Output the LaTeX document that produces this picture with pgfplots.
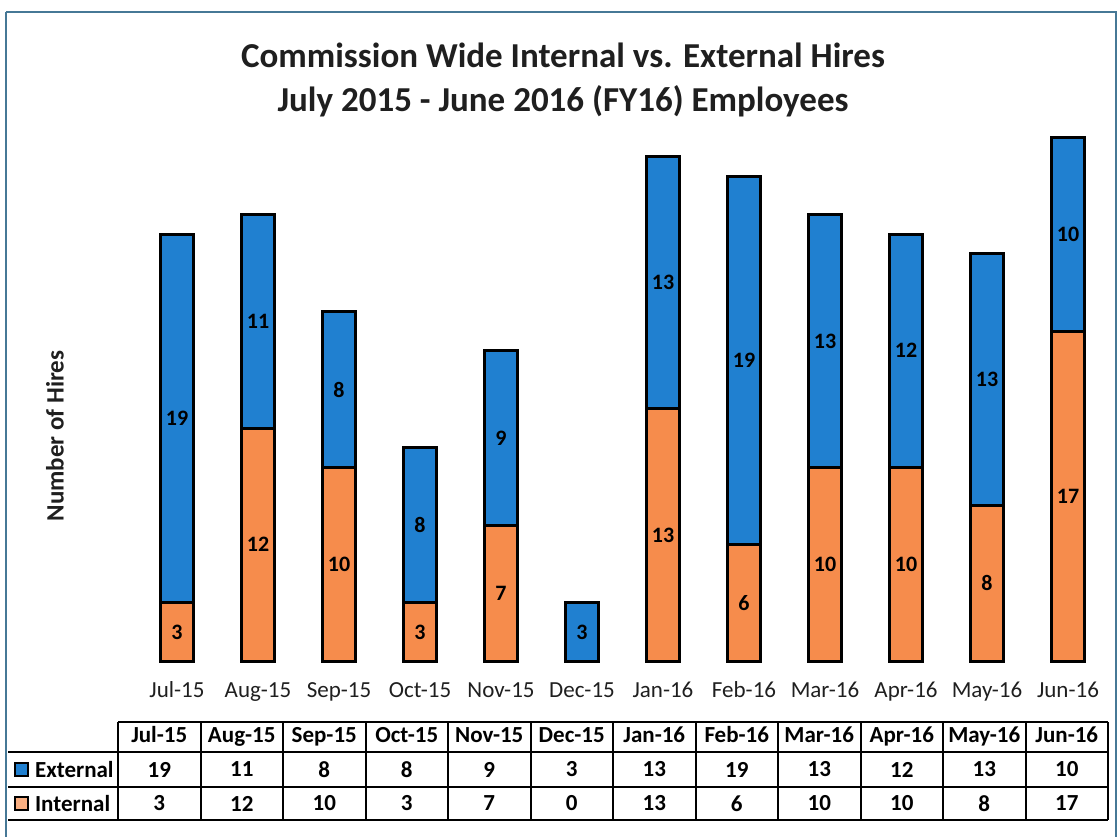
\documentclass[border=0pt]{standalone}
\usepackage{pgfplots}
\usepackage{pgfplotstable}
\pgfplotsset{compat=1.18}
\usepackage{fontspec}
\setmainfont{Carlito}

\definecolor{extblue}{RGB}{32,128,208}
\definecolor{intorange}{RGB}{246,140,76}
\definecolor{frameblue}{RGB}{70,120,150}

% monthly hires, FY16
\pgfplotstableread{
idx month  ext int
0   Jul-15 19  3
1   Aug-15 11  12
2   Sep-15 8   10
3   Oct-15 8   3
4   Nov-15 9   7
5   Dec-15 3   0
6   Jan-16 13  13
7   Feb-16 19  6
8   Mar-16 13  10
9   Apr-16 12  10
10  May-16 13  8
11  Jun-16 10  17
}\hires

\pgfplotsset{
  hiresaxis/.style={
    at={(68.25pt,87.5pt)}, anchor=south west,
    scale only axis, width=486pt, height=271.5pt,
    xmin=-0.5, xmax=11.5, ymin=0, ymax=28,
    clip=false,
  },
}

\begin{document}
\begin{tikzpicture}
\useasboundingbox (0,0) rectangle (559.5pt,418pt);

% stacked bars
\begin{axis}[hiresaxis,
  ybar stacked, bar width=16.5pt,
  hide axis,
]
\addplot[fill=intorange, draw=black, line width=1.5pt] table[x=idx, y=int] {\hires};
\addplot[fill=extblue, draw=black, line width=1.5pt] table[x=idx, y=ext] {\hires};
\end{axis}

% month names under the bars and value labels in each segment
\begin{axis}[hiresaxis,
  axis line style={draw=none},
  xtick={0,...,11}, xticklabels from table={\hires}{month},
  typeset ticklabels with strut,
  xticklabel style={font=\fontsize{11.5}{13}\selectfont, text=black!88, yshift=-5.5pt},
  major tick length=0pt,
  ytick=\empty,
  nodes near coords={\pgfmathprintnumber[assume math mode=true]{\pgfplotspointmeta}},
  nodes near coords align={center},
  every node near coord/.append style={font=\bfseries\fontsize{11}{13}\selectfont, text=black},
  point meta=explicit,
]
\addplot[draw=none, mark=none, skip coords between index={5}{6}]
  table[x=idx, y expr=\thisrow{int}/2, meta=int] {\hires};
\addplot[draw=none, mark=none]
  table[x=idx, y expr=\thisrow{int}+\thisrow{ext}/2, meta=ext] {\hires};
\end{axis}

\begin{scope}[x=0.5pt, y=-0.5pt, yshift=418pt]
  % outer frame
  \draw[frameblue, line width=1pt] (6,12) -- (1116,12) -- (1116,840);
  \draw[frameblue, line width=1pt] (6,12) -- (6,840);

  % title
  \node[font=\bfseries\fontsize{17.5}{22}\selectfont, text=black!88, align=center]
    at (563,80) {Commission Wide Internal vs. External Hires\\July 2015 - June 2016 (FY16) Employees};

  % y label
  \node[font=\bfseries\fontsize{12.5}{14}\selectfont, text=black!88, rotate=90] at (55,436) {Number of Hires};

  % data table grid
  \draw[black, line width=1pt] (118,722) -- (1108,722);
  \foreach \yy in {752,787,820} \draw[black, line width=1pt] (8,\yy) -- (1108,\yy);
  \foreach \k in {0,...,12} \draw[black, line width=1pt] (118+82.5*\k,722) -- (118+82.5*\k,820);

  % row labels with keys
  \filldraw[fill=extblue, draw=black, line width=0.9pt] (15,763) rectangle (28,776);
  \node[anchor=west, font=\bfseries\fontsize{11.5}{13}\selectfont] at (28,769.5) {External};
  \filldraw[fill=intorange!70, draw=black, line width=0.9pt] (15,797) rectangle (28,810);
  \node[anchor=west, font=\bfseries\fontsize{11.5}{13}\selectfont] at (28,803.5) {Internal};

  % table cells
  \foreach \i in {0,...,11} {
    \pgfplotstablegetelem{\i}{month}\of\hires \let\mon\pgfplotsretval
    \pgfplotstablegetelem{\i}{ext}\of\hires \let\ev\pgfplotsretval
    \pgfplotstablegetelem{\i}{int}\of\hires \let\iv\pgfplotsretval
    \node[font=\bfseries\fontsize{11.5}{13}\selectfont, text height=1.6ex, text depth=0.4ex] at (159.25+82.5*\i,737) {\mon};
    \node[font=\bfseries\fontsize{11.5}{13}\selectfont] at (159.25+82.5*\i,769.5) {\ev};
    \node[font=\bfseries\fontsize{11.5}{13}\selectfont] at (159.25+82.5*\i,803.5) {\iv};
  }
\end{scope}
\end{tikzpicture}
\end{document}
